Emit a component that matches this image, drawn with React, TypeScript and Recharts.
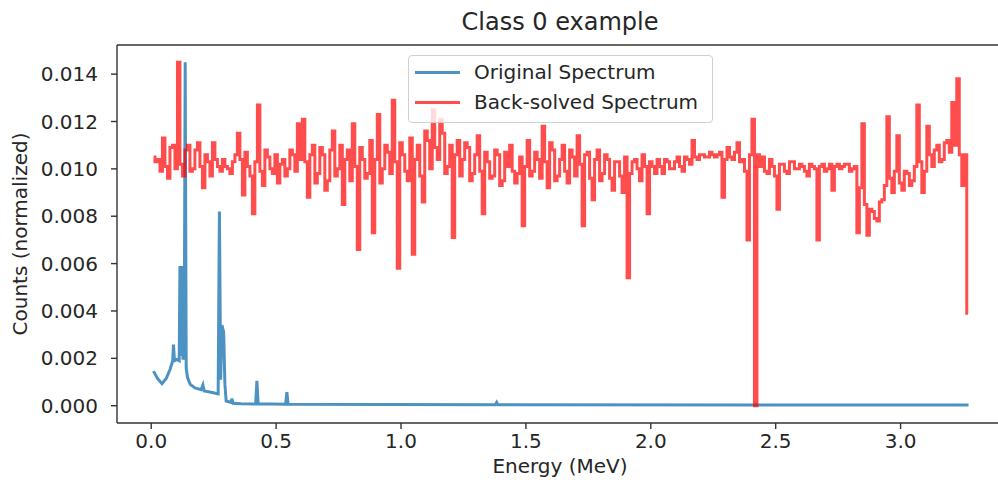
import { LineChart, Line, XAxis, YAxis, Legend, ReferenceLine } from 'recharts';

const FONT = '"DejaVu Sans", sans-serif';
const BLUE = '#1f77b4';
const RED = '#ff0000';

const xTicks = [0, 0.5, 1, 1.5, 2, 2.5, 3];
const yTicks = [0, 0.002, 0.004, 0.006, 0.008, 0.01, 0.012, 0.014];
const X_DOMAIN = [-0.137, 3.41];
const Y_DOMAIN = [-0.00073, 0.01523];

// original spectrum: sparse points around the peaks, flat tail afterwards
const originalEnergy = [
  0.009, 0.025, 0.043, 0.06, 0.076, 0.086, 0.089, 0.093, 0.103, 0.112,
  0.115, 0.119, 0.123, 0.127, 0.132, 0.136, 0.14, 0.145, 0.156, 0.175,
  0.2, 0.207, 0.212, 0.24, 0.268, 0.273, 0.278, 0.283, 0.29, 0.295,
  0.3, 0.32, 0.323, 0.328, 0.36, 0.418, 0.423, 0.428, 0.538, 0.543,
  0.548, 1.378, 1.383, 1.388, 3.272,
];
const originalCounts = [
  0.00146, 0.00115, 0.00093, 0.00115, 0.00155, 0.0019, 0.00258, 0.0019, 0.00195, 0.0019,
  0.0059, 0.0021, 0.0059, 0.002, 0.002, 0.0145, 0.0016, 0.0012, 0.0009, 0.00075,
  0.00068, 0.00088, 0.00062, 0.00057, 0.0005, 0.0082, 0.0011, 0.0034, 0.0031, 0.0009,
  0.0002, 0.00014, 0.0003, 0.0001, 0.00008, 0.00007, 0.00105, 0.00008, 0.00006, 0.00057,
  0.00006, 0.00004, 0.00014, 0.00004, 0.00003,
];

// back-solved spectrum, binned from 0.01 MeV in 0.01 MeV steps
const solvedStart = 0.01;
const solvedStep = 0.01;
const solvedCounts = [
  // 0.01 - 0.40
  0.0105, 0.0103, 0.0104, 0.0099, 0.0113, 0.0101, 0.0096, 0.0109, 0.011, 0.01,
  0.0145, 0.0102, 0.0097, 0.0108, 0.011, 0.0099, 0.01, 0.0108, 0.0111, 0.0101,
  0.0092, 0.0106, 0.0103, 0.0097, 0.0111, 0.0104, 0.0101, 0.0099, 0.0104, 0.0101,
  0.01, 0.0098, 0.0103, 0.0106, 0.0115, 0.0104, 0.0089, 0.0107, 0.0101, 0.0097,
  // 0.41 - 0.80
  0.0081, 0.0103, 0.0127, 0.0099, 0.0093, 0.0108, 0.0105, 0.01, 0.0098, 0.0106,
  0.0094, 0.0102, 0.0104, 0.0097, 0.01, 0.0108, 0.0106, 0.0099, 0.0119, 0.0104,
  0.0121, 0.0103, 0.0088, 0.0106, 0.011, 0.0094, 0.0098, 0.0109, 0.0106, 0.0091,
  0.0095, 0.0108, 0.0116, 0.0097, 0.01, 0.011, 0.0085, 0.0104, 0.0108, 0.0095,
  // 0.81 - 1.20
  0.0119, 0.0101, 0.0066, 0.0109, 0.0104, 0.0096, 0.0098, 0.0112, 0.0073, 0.0104,
  0.0123, 0.0094, 0.01, 0.011, 0.0107, 0.0098, 0.0129, 0.0103, 0.0058, 0.0111,
  0.0106, 0.0099, 0.0095, 0.0113, 0.0064, 0.0104, 0.011, 0.0097, 0.0086, 0.0116,
  0.0112, 0.01, 0.0125, 0.0109, 0.0104, 0.0121, 0.0115, 0.0098, 0.0101, 0.011,
  // 1.21 - 1.60
  0.0071, 0.0106, 0.0112, 0.0097, 0.0104, 0.0111, 0.0109, 0.0095, 0.0098, 0.0106,
  0.0114, 0.0099, 0.0081, 0.0107, 0.0103, 0.0096, 0.0097, 0.0108, 0.0106, 0.0093,
  0.0095, 0.0107, 0.0101, 0.011, 0.0099, 0.0094, 0.0098, 0.0105, 0.0076, 0.0101,
  0.0112, 0.0097, 0.0099, 0.0107, 0.0104, 0.0096, 0.0118, 0.0103, 0.0092, 0.0111,
  // 1.61 - 2.00
  0.0108, 0.0095, 0.0097, 0.0104, 0.011, 0.0099, 0.0094, 0.0108, 0.0105, 0.0097,
  0.0114, 0.0102, 0.0076, 0.0106, 0.0107, 0.0096, 0.0087, 0.0104, 0.0108, 0.0095,
  0.0098, 0.0106, 0.0104, 0.0096, 0.0091, 0.0103, 0.0103, 0.0097, 0.009, 0.0105,
  0.0054, 0.0098, 0.0103, 0.0104, 0.01, 0.0095, 0.0106, 0.0101, 0.0081, 0.0103,
  // 2.01 - 2.40
  0.0101, 0.0098, 0.0104, 0.0101, 0.0098, 0.0104, 0.0103, 0.01, 0.01, 0.0103,
  0.0105, 0.0101, 0.0099, 0.0105, 0.0104, 0.0102, 0.0112, 0.0105, 0.0104, 0.0106,
  0.0106, 0.0105, 0.0105, 0.0107, 0.0106, 0.0105, 0.0106, 0.0107, 0.0088, 0.0104,
  0.0109, 0.0105, 0.0104, 0.0107, 0.0111, 0.0103, 0.0104, 0.0099, 0.007, 0.0106,
  // 2.41 - 2.80
  0.0121, 0.0, 0.0106, 0.0101, 0.0105, 0.0099, 0.0098, 0.0104, 0.0101, 0.0097,
  0.0083, 0.0102, 0.0102, 0.0099, 0.0098, 0.0103, 0.0103, 0.01, 0.01, 0.0102,
  0.0101, 0.0099, 0.0097, 0.0102, 0.0101, 0.01, 0.007, 0.0101, 0.0102, 0.0099,
  0.01, 0.0102, 0.0091, 0.0101, 0.0102, 0.01, 0.0101, 0.0102, 0.0102, 0.0099,
  // 2.81 - 3.20
  0.01, 0.0101, 0.0073, 0.0092, 0.0119, 0.0085, 0.0072, 0.0083, 0.0082, 0.0079,
  0.0078, 0.0086, 0.0087, 0.0093, 0.0122, 0.0096, 0.009, 0.0099, 0.0114, 0.0094,
  0.0091, 0.0099, 0.0098, 0.0093, 0.0095, 0.0101, 0.0127, 0.0103, 0.009, 0.0099,
  0.0118, 0.0106, 0.0101, 0.0108, 0.011, 0.0103, 0.0104, 0.0111, 0.0112, 0.0107,
  // 3.21 - 3.27
  0.0128, 0.011, 0.0138, 0.0106, 0.0093, 0.0106, 0.0039,
];

const originalData = originalEnergy.map((e, i) => ({ e, c: originalCounts[i] }));
const solvedData = solvedCounts.map((c, i) => ({
  e: Number((solvedStart + i * solvedStep).toFixed(3)),
  c,
}));

const legendItems = [
  { label: 'Original Spectrum', color: BLUE, opacity: 0.8 },
  { label: 'Back-solved Spectrum', color: RED, opacity: 0.7 },
];

function SpectrumLegend() {
  return (
    <div
      style={{
        position: 'relative',
        width: 305,
        height: 68,
        boxSizing: 'border-box',
        border: '1px solid #d0d0d0',
        borderRadius: 4,
        background: 'rgba(255,255,255,0.8)',
        fontFamily: FONT,
        fontSize: 20,
        color: '#262626',
      }}
    >
      {legendItems.map((item, i) => (
        <div key={item.label}>
          <div
            style={{
              position: 'absolute',
              left: 6,
              top: 15 + i * 30,
              width: 45,
              height: 3,
              background: item.color,
              opacity: item.opacity,
            }}
          />
          <div
            style={{
              position: 'absolute',
              left: 65,
              top: 6 + i * 30,
              lineHeight: '20px',
              whiteSpace: 'nowrap',
            }}
          >
            {item.label}
          </div>
        </div>
      ))}
    </div>
  );
}

const tickStyle = { fontFamily: FONT, fontSize: 20, fill: '#262626' };

export default function App() {
  return (
    <div
      style={{
        position: 'absolute',
        left: 0,
        top: 0,
        width: 998,
        height: 489,
        overflow: 'hidden',
        background: '#fff',
      }}
    >
      <LineChart
        width={1010}
        height={489}
        margin={{ top: 45, right: 7, bottom: 0, left: 0 }}
      >
        <XAxis
          dataKey="e"
          type="number"
          domain={X_DOMAIN}
          allowDataOverflow
          ticks={xTicks}
          tickFormatter={(v: number) => v.toFixed(1)}
          height={66}
          tickSize={6}
          tickMargin={5}
          tick={tickStyle}
          stroke="#333"
          strokeWidth={1.4}
        />
        <YAxis
          type="number"
          domain={Y_DOMAIN}
          allowDataOverflow
          ticks={yTicks}
          tickFormatter={(v: number) => v.toFixed(3)}
          width={117}
          tickSize={6}
          tickMargin={13}
          tick={tickStyle}
          stroke="#333"
          strokeWidth={1.4}
        />
        <ReferenceLine
          y={Y_DOMAIN[1]}
          stroke="#333"
          strokeWidth={1.4}
          ifOverflow="visible"
        />
        <Legend
          layout="horizontal"
          verticalAlign="middle"
          align="center"
          content={() => <SpectrumLegend />}
          wrapperStyle={{ left: 408, top: 55, width: 305 }}
        />
        <Line
          data={originalData}
          dataKey="c"
          name="Original Spectrum"
          type="linear"
          stroke={BLUE}
          strokeOpacity={0.8}
          strokeWidth={3}
          dot={false}
          activeDot={false}
          isAnimationActive={false}
        />
        <Line
          data={solvedData}
          dataKey="c"
          name="Back-solved Spectrum"
          type="step"
          stroke={RED}
          strokeOpacity={0.7}
          strokeWidth={3}
          dot={false}
          activeDot={false}
          isAnimationActive={false}
        />
      </LineChart>
      <div
        style={{
          position: 'absolute',
          left: 560,
          top: 10,
          transform: 'translateX(-50%)',
          fontFamily: FONT,
          fontSize: 24,
          lineHeight: '24px',
          whiteSpace: 'nowrap',
          color: '#262626',
        }}
      >
        Class 0 example
      </div>
      <div
        style={{
          position: 'absolute',
          left: 560,
          top: 456,
          transform: 'translateX(-50%)',
          fontFamily: FONT,
          fontSize: 20,
          lineHeight: '20px',
          whiteSpace: 'nowrap',
          color: '#262626',
        }}
      >
        Energy (MeV)
      </div>
      <div
        style={{
          position: 'absolute',
          left: 20,
          top: 234,
          transform: 'translate(-50%, -50%) rotate(-90deg)',
          fontFamily: FONT,
          fontSize: 20,
          lineHeight: '20px',
          whiteSpace: 'nowrap',
          color: '#262626',
        }}
      >
        Counts (normalized)
      </div>
    </div>
  );
}
